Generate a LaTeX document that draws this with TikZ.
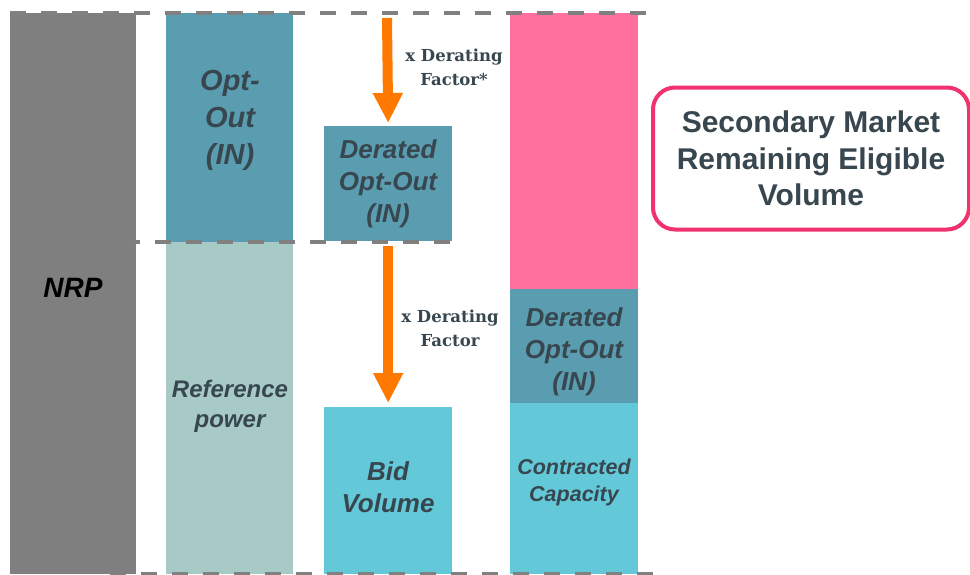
\documentclass[tikz,border=0pt]{standalone}
\usepackage{fontspec}
\setmainfont{Liberation Sans}
\newfontfamily\slabfont{DejaVu Serif}
\usetikzlibrary{arrows.meta}

\definecolor{nrpgray}{HTML}{7F7F7F}
\definecolor{optteal}{HTML}{5B9DB0}
\definecolor{refgreen}{HTML}{A7CAC7}
\definecolor{bidcyan}{HTML}{63C9D9}
\definecolor{mktpink}{HTML}{FF6F9D}
\definecolor{calloutpink}{HTML}{F0336E}
\definecolor{slate}{HTML}{38474F}
\definecolor{derorange}{HTML}{FF7800}
\definecolor{guidegray}{HTML}{808080}

\tikzset{
  bar/.style={draw=none, inner sep=0pt, anchor=north west, fill=#1},
  barlabel/.style={inner sep=0pt, align=center, text=slate,
    font=\bfseries\itshape\fontsize{26}{32}\selectfont},
  guide/.style={draw=guidegray, line width=4.5pt, dash pattern=on 16pt off 15pt},
  derarrow/.style={draw=derorange, line width=10pt,
    -{Triangle[width=28pt, length=30pt]}},
  factorlabel/.style={inner sep=0pt, align=center, text=slate,
    font=\slabfont\bfseries\fontsize{16.5}{24}\selectfont},
}

\begin{document}
\begin{tikzpicture}[x=1pt, y=-1pt]
\useasboundingbox (0,0) rectangle (970,574);

% columns of stacked bars
\node[bar=nrpgray,  minimum width=126pt, minimum height=561pt] (nrp)  at (10,13)  {};
\node[bar=optteal,  minimum width=127pt, minimum height=229pt] (opt)  at (166,13) {};
\node[bar=refgreen, minimum width=127pt, minimum height=332pt] (ref)  at (166,242) {};
\node[bar=optteal,  minimum width=128pt, minimum height=115pt] (dob)  at (324,126) {};
\node[bar=bidcyan,  minimum width=128pt, minimum height=167pt] (bid)  at (324,407) {};
\node[bar=mktpink,  minimum width=128pt, minimum height=276pt] (mkt)  at (510,13) {};
\node[bar=optteal,  minimum width=128pt, minimum height=114pt] (dor)  at (510,289) {};
\node[bar=bidcyan,  minimum width=128pt, minimum height=171pt] (con)  at (510,403) {};

% dashed guide lines
\coordinate (topL) at (10,13);   \coordinate (topR) at (651,13);
\coordinate (midL) at (124,242); \coordinate (midR) at (453,242);
\coordinate (botL) at (110,574); \coordinate (botR) at (660,574);
\draw[guide] (topL) -- (topR);
\draw[guide] (midL) -- (midR);
\draw[guide] (botL) -- (botR);

% bar texts
\node[barlabel, text=black, font=\bfseries\itshape\fontsize{28}{35}\selectfont] (nrpT) at (73,288) {NRP};
\node[barlabel, font=\bfseries\itshape\fontsize{29}{37}\selectfont] (optT) at (230,120) {Opt-\\Out\\(IN)};
\node[barlabel, font=\bfseries\itshape\fontsize{24}{30}\selectfont] (refT) at (230,406) {Reference\\power};
\node[barlabel] (dobT) at (388,184) {Derated\\Opt-Out\\(IN)};
\node[barlabel] (bidT) at (388,487) {Bid\\Volume};
\node[barlabel] (dorT) at (574,352) {Derated\\Opt-Out\\(IN)};
\node[barlabel, font=\bfseries\itshape\fontsize{21.5}{27}\selectfont] (conT) at (574,482) {Contracted\\Capacity};

% derating arrows
\coordinate (a1start) at (387,18);
\draw[derarrow] (a1start) -- ([yshift=3pt]dob.north);
\draw[derarrow] ([yshift=-5pt]dob.south) -- ([yshift=4pt]bid.north);
\node[factorlabel] (f1) at (454,67) {x Derating\\Factor*};
\node[factorlabel] (f2) at (450,328) {x Derating\\Factor};

% callout
\node[draw=calloutpink, line width=4pt, rounded corners=22pt, inner sep=0pt,
      minimum width=316pt, minimum height=142pt, align=center, text=slate,
      font=\bfseries\fontsize{30}{36.5}\selectfont] (callout) at (811,158.5)
      {Secondary Market\\Remaining Eligible\\Volume};
\end{tikzpicture}
\end{document}
